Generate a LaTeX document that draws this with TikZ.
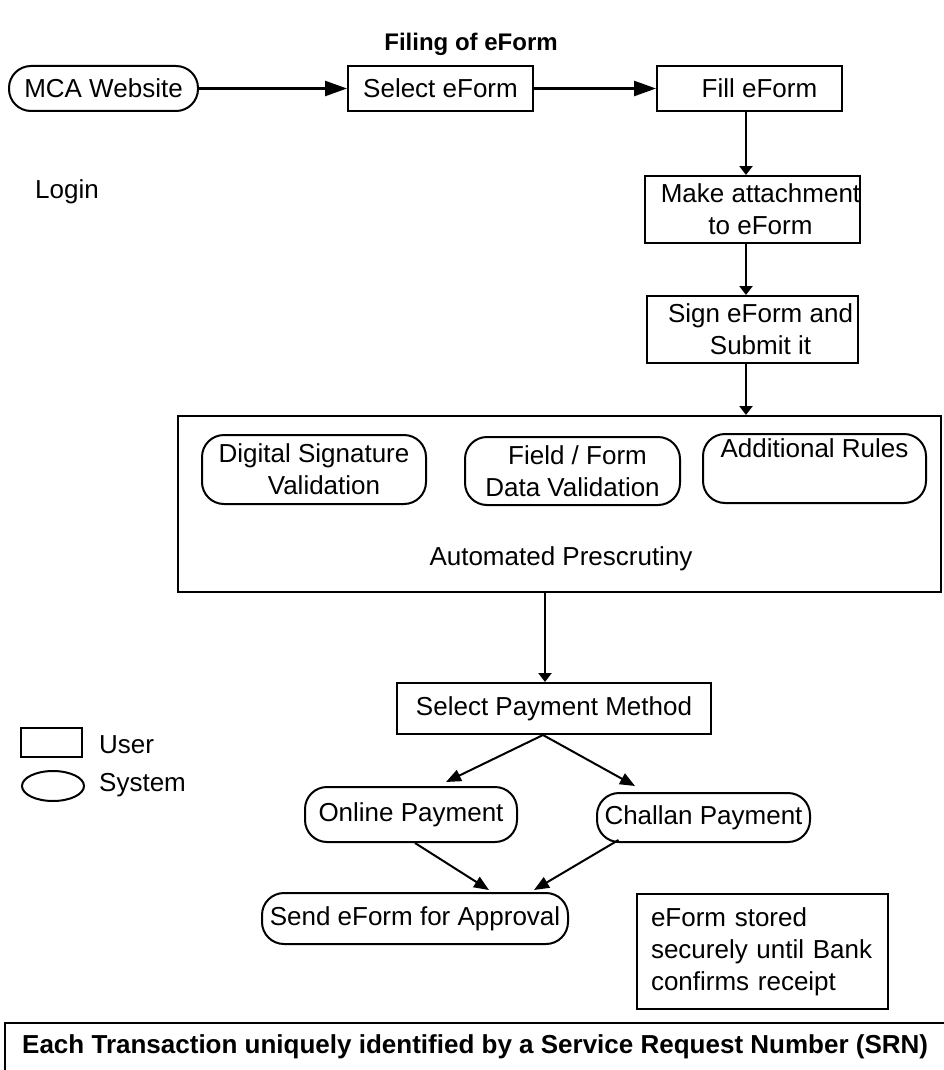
\documentclass[tikz,border=0pt]{standalone}
\usepackage{fontspec}
\setmainfont{Liberation Sans}
\usetikzlibrary{arrows.meta,shapes.geometric}
\begin{document}
\begin{tikzpicture}[x=1pt,y=-1pt,
  every node/.style={font=\fontsize{26}{32}\selectfont, inner sep=0pt, align=center},
  userbox/.style={draw, line width=2pt, rectangle},
  sysbox/.style={draw, line width=2pt, rounded corners=22pt},
  harr/.style={line width=2.5pt, -{Triangle[length=22pt,width=15pt]}},
  varr/.style={line width=2.5pt, -{Triangle[length=9pt,width=13pt]}},
  darr/.style={line width=2pt, -{Triangle[length=15pt,width=12pt]}},
]
\useasboundingbox (0,0) rectangle (943,1070);

% title and side label
\node[font=\fontsize{24}{28}\selectfont\bfseries] (title) at (471,44) {Filing of eForm};
\node[anchor=west] (login) at (35,192) {Login};

% top row
\node[sysbox, minimum width=189pt, minimum height=45pt] (mca) at (103.5,88.5) {MCA Website};
\node[userbox, minimum width=185pt, minimum height=45pt] (sel) at (440.5,88.5) {Select eForm};
\node[userbox, minimum width=185pt, minimum height=45pt] (fill) at (749.5,88.5) {\hspace*{20pt}Fill eForm};

% vertical chain
\node[userbox, minimum width=211pt, minimum height=67pt] (make) at (752.5,209.5) {\hspace*{16pt}Make attachment\\\hspace*{16pt}to eForm};
\node[userbox, minimum width=211pt, minimum height=67pt] (sign) at (752.5,329.5) {\hspace*{16pt}Sign eForm and\\\hspace*{16pt}Submit it};

% prescrutiny block
\node[userbox, minimum width=763pt, minimum height=176pt] (big) at (559.5,504) {};
\node[sysbox, minimum width=224pt, minimum height=69pt] (ds) at (314,469.5) {Digital Signature\\\hspace*{20pt}Validation};
\node[sysbox, minimum width=215pt, minimum height=68pt] (ff) at (572.5,471) {\hspace*{10pt}Field / Form\\Data Validation};
\node[sysbox, minimum width=223pt, minimum height=69pt] (ar) at (814.5,468.5) {Additional Rules\\\strut};
\node (auto) at (561,559) {Automated Prescrutiny};

% payment
\node[userbox, minimum width=314pt, minimum height=51pt] (spm) at (554,708.5) {Select Payment Method};
\node[sysbox, minimum width=212pt, minimum height=55pt] (online) at (411,814.5) {Online Payment};
\node[sysbox, minimum width=213pt, minimum height=49pt] (challan) at (703.5,817.5) {Challan Payment};
\node[sysbox, minimum width=306pt, minimum height=51pt] (send) at (415,918.5) {Send eForm for Approval};
\node[userbox, minimum width=251pt, minimum height=115pt, text width=223pt, align=left] (stored) at (762.5,951.5) {eForm stored\\securely until Bank\\confirms receipt};

% legend
\node[userbox, minimum width=61pt, minimum height=29pt] (leguser) at (51.5,742.5) {};
\node[draw, line width=2pt, ellipse, minimum width=62pt, minimum height=30pt] (legsys) at (53,786) {};
\node[anchor=west] (legusertxt) at (99,745) {User};
\node[anchor=west] (legsystxt) at (99,785) {System};

% SRN bar
\coordinate (srnA) at (5,1072);
\coordinate (srnB) at (5,1023);
\coordinate (srnC) at (945,1023);
\draw[line width=2pt] (srnA) -- (srnB) -- (srnC);
\node[anchor=west, font=\fontsize{26}{32}\selectfont\bfseries] (srn) at (22,1047) {Each Transaction uniquely identified by a Service Request Number (SRN)};

% connectors
\coordinate (colA) at (746,0);
\coordinate (colB) at (545,0);
\draw[harr] (mca.east) -- (sel.west);
\draw[harr] (sel.east) -- (fill.west);
\draw[varr] (fill.south -| colA) -- (make.north -| colA);
\draw[varr] (make.south -| colA) -- (sign.north -| colA);
\draw[varr] (sign.south -| colA) -- (big.north -| colA);
\draw[varr] (big.south -| colB) -- (spm.north -| colB);
\draw[darr] ([xshift=-11pt]spm.south) -- ([xshift=35pt,yshift=4pt]online.north);
\draw[darr] ([xshift=-11pt]spm.south) -- ([xshift=-68.5pt,yshift=6pt]challan.north);
\draw[darr] ([xshift=4pt]online.south) -- ([xshift=74pt,yshift=2pt]send.north);
\draw[darr] ([xshift=-85pt,yshift=3pt]challan.south) -- ([xshift=119pt,yshift=2pt]send.north);
\end{tikzpicture}
\end{document}
